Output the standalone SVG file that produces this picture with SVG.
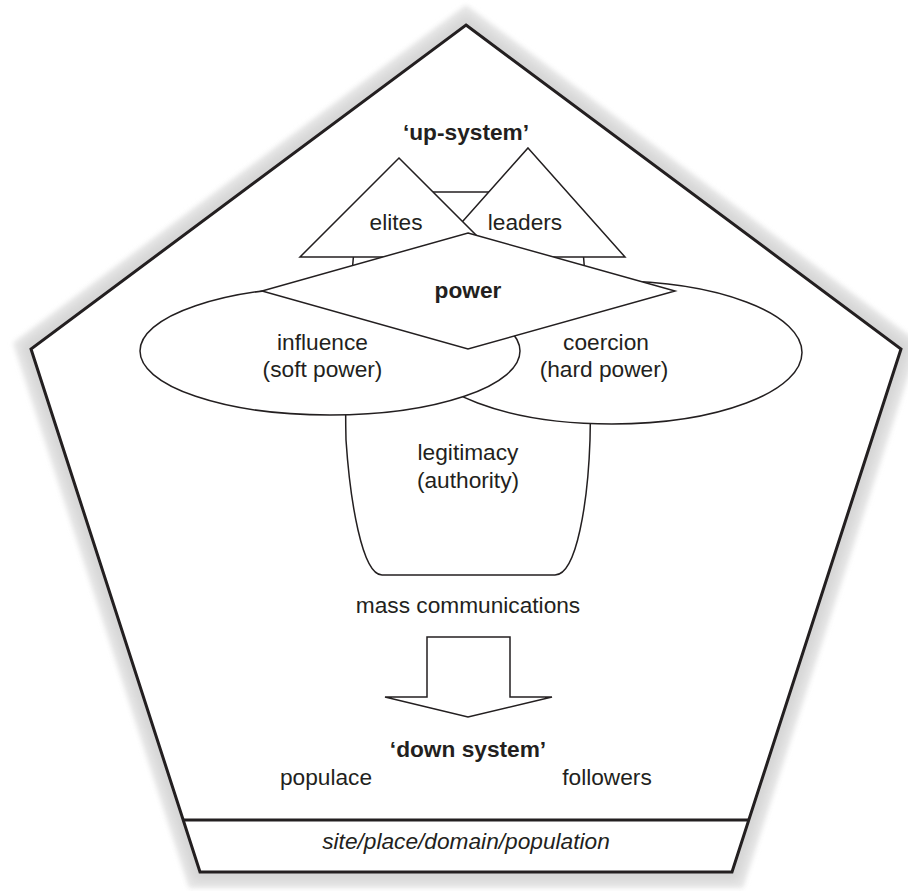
<svg xmlns="http://www.w3.org/2000/svg" width="908" height="891" viewBox="0 0 908 891">
  <defs>
    <filter id="soft" x="-10%" y="-10%" width="120%" height="120%">
      <feGaussianBlur stdDeviation="2.5"/>
    </filter>
    <filter id="soft2" x="-10%" y="-10%" width="120%" height="120%">
      <feGaussianBlur stdDeviation="4"/>
    </filter>
  </defs>
  <style>
    .t { font-family: "Liberation Sans", Arial, sans-serif; font-size: 22.7px; fill: #231f20; text-anchor: middle; }
    .b { font-weight: bold; }
    .i { font-style: italic; }
    .s { fill: #ffffff; stroke: #231f20; stroke-width: 1.5; stroke-linejoin: miter; }
    .frame { fill: #ffffff; stroke: #231f20; stroke-width: 3; stroke-linejoin: miter; }
  </style>
  <rect width="908" height="891" fill="#ffffff"/>

  <g id="frame">
    <polygon points="466,5 919,343 743,888 189,888 13,343" fill="#e6e6e6" filter="url(#soft)"/>
    <polygon points="466,14 911,345 738,881 194,881 21,345" fill="#d6d6d6" filter="url(#soft2)"/>
    <polygon class="frame" points="466,25 901,349 732,872 200,872 31,349"/>
    <line x1="183" y1="820" x2="749" y2="820" stroke="#231f20" stroke-width="3"/>
  </g>

  <g id="up-system">
    <text class="t b" x="466" y="140">‘up-system’</text>
  </g>

  <g id="legitimacy">
    <path class="s" d="M354,250 Q344,360 346,440 C350,500 362,575 382,575 L555,575 C577,575 588,500 590,440 Q592,360 583,250 Z"/>
    <text class="t" x="468" y="460">legitimacy</text>
    <text class="t" x="468" y="488">(authority)</text>
  </g>

  <g id="link">
    <rect class="s" x="433" y="192" width="56" height="50"/>
  </g>

  <g id="leaders">
    <polygon class="s" points="528,148 625,257 431,257"/>
    <text class="t" x="525" y="230">leaders</text>
  </g>

  <g id="elites">
    <polygon class="s" points="399,158 498,257 300,257"/>
    <text class="t" x="396" y="230">elites</text>
  </g>

  <g id="coercion">
    <ellipse class="s" cx="612" cy="352.5" rx="190" ry="71.5"/>
    <text class="t" x="606" y="350">coercion</text>
    <text class="t" x="604" y="377">(hard power)</text>
  </g>

  <g id="influence">
    <ellipse class="s" cx="330" cy="351" rx="190" ry="64"/>
    <text class="t" x="322.5" y="350">influence</text>
    <text class="t" x="322.5" y="377">(soft power)</text>
  </g>

  <g id="power">
    <polygon class="s" points="468,233 675,291 468,349 262,291"/>
    <text class="t b" x="468" y="298">power</text>
  </g>

  <g id="mass-communications">
    <text class="t" x="468" y="613">mass communications</text>
  </g>

  <g id="connectors">
    <polygon class="s" points="427,637 510,637 510,697 552,697 468,717 385,697 427,697"/>
  </g>

  <g id="down-system">
    <text class="t b" x="468" y="757">‘down system’</text>
  </g>
  <g id="populace">
    <text class="t" x="326" y="785">populace</text>
  </g>
  <g id="followers">
    <text class="t" x="607" y="785">followers</text>
  </g>
  <g id="site">
    <text class="t i" x="466" y="849">site/place/domain/population</text>
  </g>
</svg>
